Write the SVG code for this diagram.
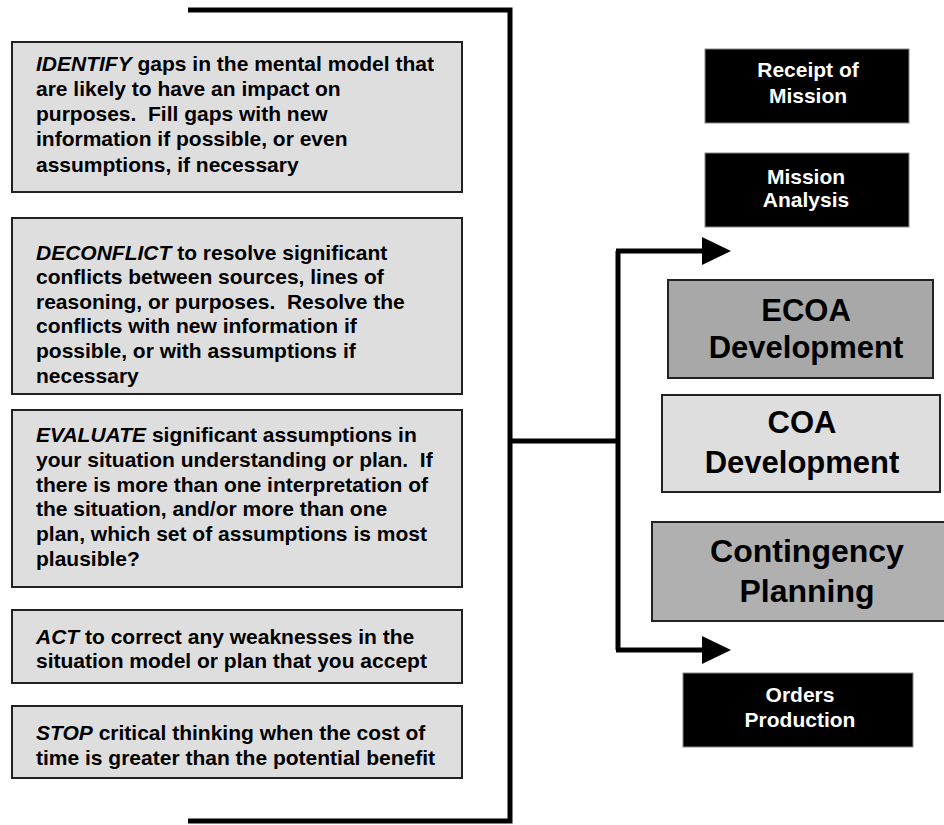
<svg xmlns="http://www.w3.org/2000/svg" width="944" height="825" viewBox="0 0 944 825">
<style>
.step{fill:#dedede;stroke:#222;stroke-width:2}
.lt{font-family:"Liberation Sans",Arial,sans-serif;font-weight:bold;font-size:21px;fill:#000;white-space:pre}
.kw{font-style:italic}
.blk{fill:#000;stroke:#888;stroke-width:1}
.wt{font-family:"Liberation Sans",Arial,sans-serif;font-weight:bold;font-size:21px;fill:#fff;text-anchor:middle}
.big{font-family:"Liberation Sans",Arial,sans-serif;font-weight:bold;font-size:31px;fill:#000;text-anchor:middle}
.conn{fill:none;stroke:#000;stroke-width:5}
</style>
<defs>
<marker id="ah" markerUnits="userSpaceOnUse" markerWidth="32" markerHeight="32" refX="1" refY="14" orient="auto">
<path d="M0,0 L29,14 L0,28 z" fill="#000"/>
</marker>
</defs>
<g id="connectors">
<path class="conn" d="M188,10 H510 V821 H188"/>
<path class="conn" d="M510,441 H618"/>
<path class="conn" d="M618,251 V650"/>
<path class="conn" d="M616,251 H703" marker-end="url(#ah)"/>
<path class="conn" d="M616,650 H703" marker-end="url(#ah)"/>
</g>
<g id="identify">
<rect class="step" x="12" y="42" width="450" height="150"/>
<text class="lt" xml:space="preserve"><tspan x="36" y="71"><tspan class="kw">IDENTIFY</tspan> gaps in the mental model that</tspan><tspan x="36" y="96">are likely to have an impact on</tspan><tspan x="36" y="121">purposes.  Fill gaps with new</tspan><tspan x="36" y="146">information if possible, or even</tspan><tspan x="36" y="172">assumptions, if necessary</tspan></text>
</g>
<g id="deconflict">
<rect class="step" x="12" y="218" width="450" height="176"/>
<text class="lt" xml:space="preserve"><tspan x="36" y="260"><tspan class="kw">DECONFLICT</tspan> to resolve significant</tspan><tspan x="36" y="284">conflicts between sources, lines of</tspan><tspan x="36" y="309">reasoning, or purposes.  Resolve the</tspan><tspan x="36" y="333">conflicts with new information if</tspan><tspan x="36" y="358">possible, or with assumptions if</tspan><tspan x="36" y="383">necessary</tspan></text>
</g>
<g id="evaluate">
<rect class="step" x="12" y="410" width="450" height="177"/>
<text class="lt" xml:space="preserve"><tspan x="36" y="442"><tspan class="kw">EVALUATE</tspan> significant assumptions in</tspan><tspan x="36" y="467">your situation understanding or plan.  If</tspan><tspan x="36" y="492">there is more than one interpretation of</tspan><tspan x="36" y="516">the situation, and/or more than one</tspan><tspan x="36" y="541">plan, which set of assumptions is most</tspan><tspan x="36" y="566">plausible?</tspan></text>
</g>
<g id="act">
<rect class="step" x="12" y="610" width="450" height="73"/>
<text class="lt" xml:space="preserve"><tspan x="36" y="644"><tspan class="kw">ACT</tspan> to correct any weaknesses in the</tspan><tspan x="36" y="668">situation model or plan that you accept</tspan></text>
</g>
<g id="stop">
<rect class="step" x="12" y="706" width="450" height="72"/>
<text class="lt" xml:space="preserve"><tspan x="36" y="740"><tspan class="kw">STOP</tspan> critical thinking when the cost of</tspan><tspan x="36" y="765">time is greater than the potential benefit</tspan></text>
</g>
<g id="receipt">
<rect class="blk" x="705" y="49" width="204" height="74"/>
<text class="wt"><tspan x="808" y="77">Receipt of</tspan><tspan x="808" y="103">Mission</tspan></text>
</g>
<g id="mission-analysis">
<rect class="blk" x="705" y="153" width="204" height="74"/>
<text class="wt"><tspan x="806" y="184">Mission</tspan><tspan x="806" y="207">Analysis</tspan></text>
</g>
<g id="ecoa">
<rect x="668" y="280" width="265" height="98" fill="#a8a8a8" stroke="#222" stroke-width="2"/>
<text class="big"><tspan x="806" y="321">ECOA</tspan><tspan x="806" y="358">Development</tspan></text>
</g>
<g id="coa">
<rect x="662" y="395" width="278" height="97" fill="#dedede" stroke="#222" stroke-width="2"/>
<text class="big"><tspan x="802" y="433">COA</tspan><tspan x="802" y="473">Development</tspan></text>
</g>
<g id="contingency">
<rect x="652" y="522" width="310" height="99" fill="#b0b0b0" stroke="#222" stroke-width="2"/>
<text class="big" style="font-size:32px"><tspan x="807" y="562">Contingency</tspan><tspan x="807" y="602">Planning</tspan></text>
</g>
<g id="orders">
<rect class="blk" x="683" y="673" width="230" height="74"/>
<text class="wt"><tspan x="800" y="702">Orders</tspan><tspan x="800" y="727">Production</tspan></text>
</g>
</svg>
